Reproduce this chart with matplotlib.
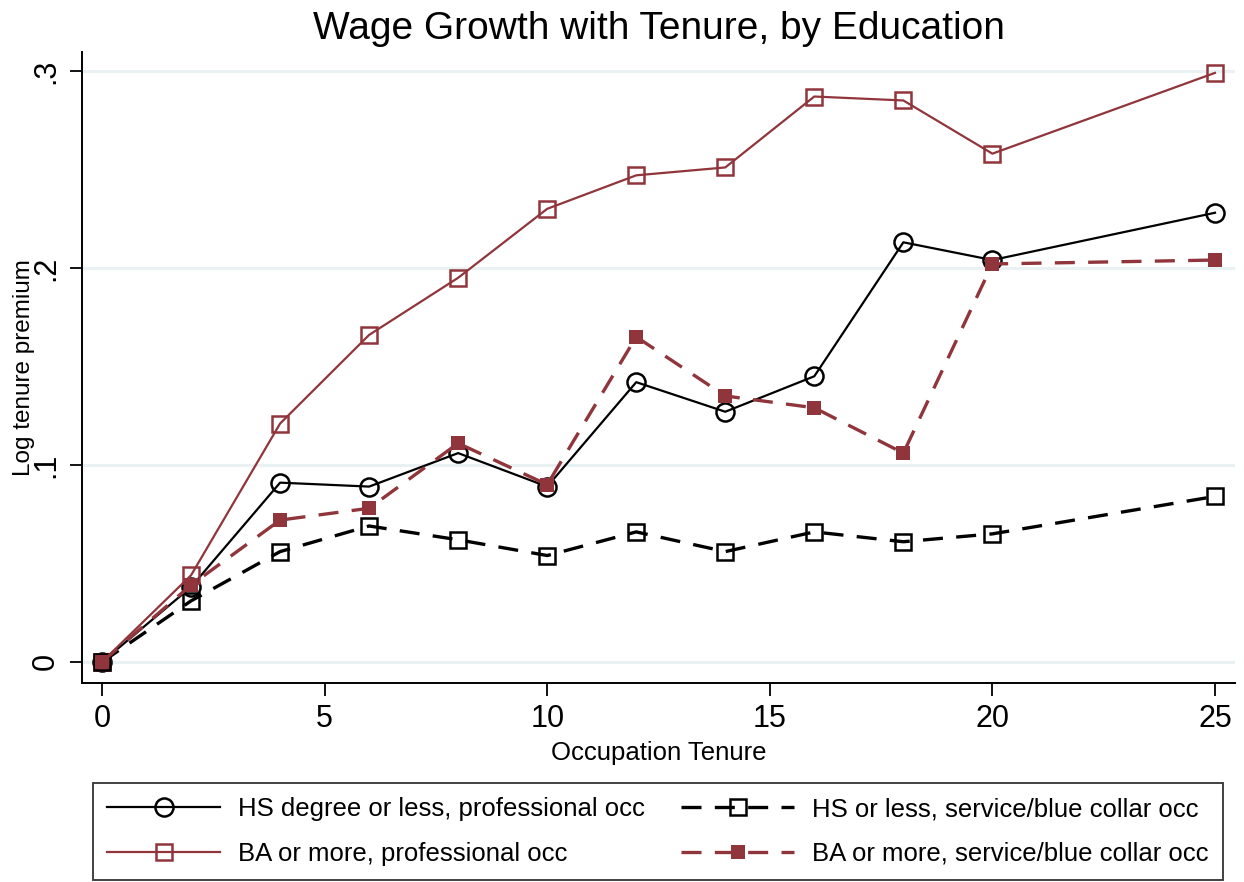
import matplotlib
matplotlib.use("Agg")
import matplotlib.pyplot as plt

plt.rcParams['font.family'] = ['Liberation Sans', 'DejaVu Sans']

tenure = [0, 2, 4, 6, 8, 10, 12, 14, 16, 18, 20, 25]
hs_prof = [0, 0.038, 0.091, 0.089, 0.106, 0.089, 0.142, 0.127, 0.145, 0.213, 0.204, 0.228]
ba_prof = [0, 0.044, 0.121, 0.166, 0.195, 0.230, 0.247, 0.251, 0.287, 0.285, 0.258, 0.299]
hs_serv = [0, 0.031, 0.056, 0.069, 0.062, 0.054, 0.066, 0.056, 0.066, 0.061, 0.065, 0.084]
ba_serv = [0, 0.039, 0.072, 0.078, 0.111, 0.090, 0.165, 0.135, 0.129, 0.106, 0.202, 0.204]

labels = ["HS degree or less, professional occ",
          "BA or more, professional occ",
          "HS or less, service/blue collar occ",
          "BA or more, service/blue collar occ"]
xticks = [0, 5, 10, 15, 20, 25]
yticks = [0, 0.1, 0.2, 0.3]
yticklabels = ["0", ".1", ".2", ".3"]

maroon = "#90353B"
grid_c = "#EAF1F3"

fig = plt.figure(figsize=(12.44, 8.82), dpi=100)
ax = fig.add_axes([82/1244, 199/882, (1235-82)/1244, (683-52)/882])

for y in yticks:
    ax.axhline(y, color=grid_c, lw=2.2, zorder=0)

h1, = ax.plot(tenure, hs_prof, color="black", lw=1.6, marker="o", ms=13,
              mfc="none", mec="black", mew=1.8, label=labels[0], zorder=3)
h2, = ax.plot(tenure, ba_prof, color=maroon, lw=1.6, marker="s", ms=12,
              mfc="none", mec=maroon, mew=1.8, label=labels[1], zorder=3)
h3, = ax.plot(tenure, hs_serv, color="black", lw=2.4, ls=(0, (6, 4)), marker="s", ms=12,
              mfc="none", mec="black", mew=1.8, label=labels[2], zorder=3)
h4, = ax.plot(tenure, ba_serv, color=maroon, lw=2.4, ls=(0, (6, 4)), marker="s", ms=10,
              mfc=maroon, mec=maroon, mew=0, label=labels[3], zorder=4)

ax.set_xlim(-0.45, 25.45)
ax.set_ylim(-0.0107, 0.3096)
ax.set_xticks(xticks)
ax.set_xticklabels([str(t) for t in xticks])
ax.set_yticks(yticks)
ax.set_yticklabels(yticklabels, rotation=90, va="center")
ax.tick_params(axis="both", direction="out", length=9, width=1.3, labelsize=22, pad=6)
for s in ["top", "right"]:
    ax.spines[s].set_visible(False)
for s in ["left", "bottom"]:
    ax.spines[s].set_linewidth(1.4)

ax.set_title("Wage Growth with Tenure, by Education", fontsize=28, pad=9.5)
ax.set_xlabel("Occupation Tenure", fontsize=18.5, labelpad=5)
ax.set_ylabel("Log tenure premium", fontsize=17.5, labelpad=-3)

leg = fig.legend(handles=[h1, h2, h3, h4], loc="lower left",
                 bbox_to_anchor=(93/1244, 2/882, (1223-93)/1244, (880-781)/882),
                 mode="expand", ncol=2, fontsize=18.5, handlelength=4.4,
                 frameon=True, fancybox=False, edgecolor="black",
                 borderaxespad=0, labelspacing=0.8, handletextpad=0.7,
                 columnspacing=1.5, borderpad=0.55)
leg.get_frame().set_linewidth(1.3)

fig.savefig("out.png", dpi=100, facecolor="white")
